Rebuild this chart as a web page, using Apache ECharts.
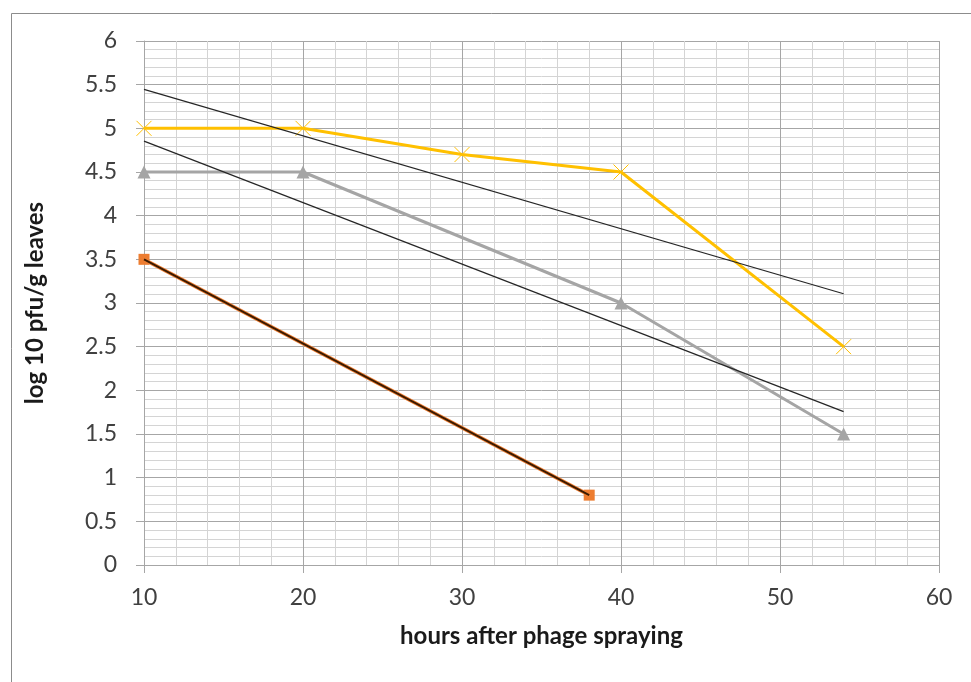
<!DOCTYPE html>
<html>
<head>
<meta charset="utf-8">
<script src="https://cdn.jsdelivr.net/npm/echarts@6/dist/echarts.min.js"></script>
<style>
html,body{margin:0;padding:0;background:#fff;}
#chart{width:971px;height:682px;}
</style>
</head>
<body>
<div id="chart"></div>
<script>
// Data
const yellowX = [10, 20, 30, 40, 54];
const yellowY = [5, 5, 4.7, 4.5, 2.5];
const grayX = [10, 20, 40, 54];
const grayY = [4.5, 4.5, 3, 1.5];
const orangeX = [10, 38];
const orangeY = [3.5, 0.8];
const xTicks = [10, 20, 30, 40, 50, 60];
const yTicks = [0, 0.5, 1, 1.5, 2, 2.5, 3, 3.5, 4, 4.5, 5, 5.5, 6];

function pairs(xs, ys) { return xs.map((x, i) => [x, ys[i]]); }
// Linear trendline (least squares) over the series' own x range
function trend(xs, ys) {
  const n = xs.length;
  const mx = xs.reduce((a, b) => a + b, 0) / n;
  const my = ys.reduce((a, b) => a + b, 0) / n;
  let sxy = 0, sxx = 0;
  for (let i = 0; i < n; i++) { sxy += (xs[i] - mx) * (ys[i] - my); sxx += (xs[i] - mx) ** 2; }
  const b = sxy / sxx, a = my - b * mx;
  const x0 = Math.min(...xs), x1 = Math.max(...xs);
  return [[x0, a + b * x0], [x1, a + b * x1]];
}

const FONT = 'Lato, "Open Sans", sans-serif';
const chart = echarts.init(document.getElementById('chart'), null, {renderer: 'canvas'});
const trendStyle = {color: '#262626', width: 1.2};

chart.setOption({
  animation: false,
  backgroundColor: '#fff',
  graphic: [{
    type: 'rect', left: 9, top: 11, silent: true, z: -1,
    shape: {x: 0, y: 0, width: 1200, height: 1000},
    style: {fill: 'none', stroke: '#8c8c8c', lineWidth: 1}
  }],
  grid: {left: 144, right: 32, top: 41, bottom: 117},
  xAxis: {
    type: 'value', min: xTicks[0], max: xTicks[xTicks.length - 1], interval: 10,
    name: 'hours after phage spraying', nameLocation: 'middle', nameGap: 59,
    nameTextStyle: {fontFamily: FONT, fontWeight: 'bold', fontSize: 24, color: '#1a1a1a'},
    axisLine: {show: true, lineStyle: {color: '#a6a6a6', width: 1}},
    axisTick: {show: true, length: 8, inside: false, lineStyle: {color: '#a6a6a6'}},
    minorTick: {show: false, splitNumber: 5},
    axisLabel: {fontFamily: FONT, fontSize: 23, color: '#404040', margin: 21},
    splitLine: {show: true, lineStyle: {color: '#a6a6a6', width: 1}},
    minorSplitLine: {show: true, lineStyle: {color: '#d4d4d4', width: 1}}
  },
  yAxis: {
    type: 'value', min: yTicks[0], max: yTicks[yTicks.length - 1], interval: 0.5,
    name: 'log 10 pfu/g leaves', nameLocation: 'middle', nameGap: 97, nameRotate: 90,
    nameTextStyle: {fontFamily: FONT, fontWeight: 'bold', fontSize: 24, color: '#1a1a1a'},
    axisLine: {show: true, lineStyle: {color: '#a6a6a6', width: 1}},
    axisTick: {show: true, length: 8, inside: false, lineStyle: {color: '#a6a6a6'}},
    minorTick: {show: false, splitNumber: 5},
    axisLabel: {fontFamily: FONT, fontSize: 23, color: '#404040', margin: 27},
    splitLine: {show: true, lineStyle: {color: '#a6a6a6', width: 1}},
    minorSplitLine: {show: true, lineStyle: {color: '#d4d4d4', width: 1}}
  },
  series: [
    {
      name: 'yellow', type: 'line', data: pairs(yellowX, yellowY), z: 3,
      symbol: 'path://M0,0L10,10M10,0L0,10', symbolSize: 15,
      itemStyle: {color: 'rgba(0,0,0,0)', borderColor: '#FFC000', borderWidth: 1},
      lineStyle: {color: '#FFC000', width: 3}
    },
    {
      name: 'gray', type: 'line', data: pairs(grayX, grayY), z: 3,
      symbol: 'triangle', symbolSize: 13,
      itemStyle: {color: '#A5A5A5'},
      lineStyle: {color: '#A5A5A5', width: 3}
    },
    {
      name: 'orange', type: 'line', data: pairs(orangeX, orangeY), z: 3,
      symbol: 'rect', symbolSize: 11,
      itemStyle: {color: '#ED7D31'},
      lineStyle: {color: '#ED7D31', width: 3.5}
    },
    {name: 'trend yellow', type: 'line', data: trend(yellowX, yellowY), symbol: 'none', lineStyle: trendStyle, z: 4, silent: true},
    {name: 'trend gray', type: 'line', data: trend(grayX, grayY), symbol: 'none', lineStyle: trendStyle, z: 4, silent: true},
    {name: 'trend orange', type: 'line', data: trend(orangeX, orangeY), symbol: 'none', lineStyle: {color: '#3a1a00', width: 1.8}, z: 4, silent: true}
  ]
});
</script>
</body>
</html>
